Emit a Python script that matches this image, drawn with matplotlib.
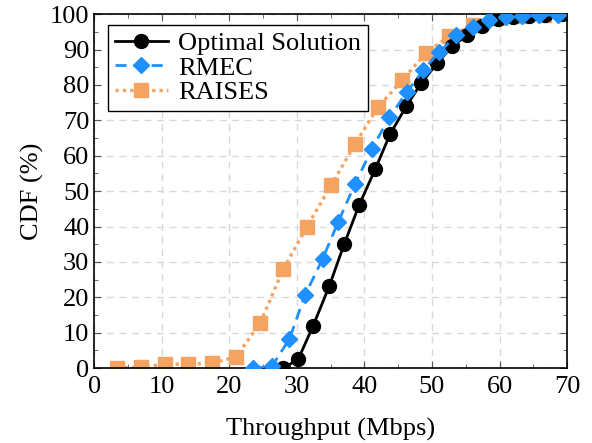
import matplotlib
matplotlib.use("Agg")
import matplotlib.pyplot as plt
from matplotlib.ticker import MultipleLocator

# throughput CDF data
opt_x = [28.0, 30.2, 32.4, 34.8, 37.0, 39.2, 41.6, 43.8, 46.2, 48.4, 50.8, 53.0,
         55.2, 57.4, 59.8, 62.0, 64.4, 66.7, 69.2]
opt_y = [0.0, 2.5, 11.9, 23.2, 35.0, 46.0, 56.2, 66.1, 74.0, 80.5, 86.2, 91.0,
         94.0, 96.6, 98.6, 99.2, 99.6, 99.8, 100.0]

rmec_x = [23.5, 26.3, 28.9, 31.2, 33.8, 36.1, 38.6, 41.1, 43.7, 46.3, 48.7, 51.1,
          53.6, 56.0, 58.5, 60.9, 63.3, 65.9, 68.7]
rmec_y = [0.0, 0.5, 8.2, 20.6, 30.8, 41.2, 52.0, 61.9, 70.9, 78.0, 84.2, 89.3,
          94.0, 96.3, 98.3, 99.2, 99.4, 99.7, 99.8]

raises_x = [3.4, 7.0, 10.5, 13.9, 17.5, 21.0, 24.6, 28.0, 31.5, 35.1, 38.6, 42.0,
            45.6, 49.1, 52.5, 56.0, 59.6, 63.0, 66.6]
raises_y = [0.0, 0.3, 1.1, 1.1, 1.4, 3.2, 12.8, 28.0, 40.0, 51.7, 63.3, 73.7,
            81.4, 89.0, 93.8, 96.9, 98.9, 99.4, 99.7]

plt.rcParams['font.family'] = ['Liberation Serif', 'DejaVu Serif']

fig = plt.figure(figsize=(5.92, 4.43), dpi=100)
ax = fig.add_axes([0.159, 0.169, 0.799, 0.799])

ax.plot(opt_x, opt_y, color='black', linestyle='-', linewidth=2.0,
        marker='o', markersize=10, label='Optimal Solution', zorder=3)
ax.plot(rmec_x, rmec_y, color='#1E90FF', linestyle=(0, (4, 2.5)), linewidth=2.0,
        marker='D', markersize=8, label='RMEC', zorder=3)
ax.plot(raises_x, raises_y, color='#F4A460', linestyle=(0, (1, 1.2)), linewidth=2.4,
        marker='s', markersize=10, label='RAISES', zorder=2)

ax.set_xlim(0, 70)
ax.set_ylim(0, 100)
ax.xaxis.set_major_locator(MultipleLocator(10))
ax.xaxis.set_minor_locator(MultipleLocator(5))
ax.yaxis.set_major_locator(MultipleLocator(10))
ax.yaxis.set_minor_locator(MultipleLocator(5))
ax.tick_params(which='both', direction='in', top=True, right=True, labelsize=19,
               color='#555555')
ax.tick_params(which='major', length=5)
ax.tick_params(which='minor', length=3)
ax.tick_params(axis='x', which='major', pad=6)
ax.grid(True, which='major', color='#d9d9d9', linestyle=(0, (5, 4)), linewidth=1)
ax.set_axisbelow(True)
for sp in ax.spines.values():
    sp.set_linewidth(1.2)
    sp.set_color('black')

ax.set_xlabel('Throughput (Mbps)', fontsize=19, labelpad=14)
ax.set_ylabel('CDF (%)', fontsize=19)

leg = ax.legend(loc='upper left', fontsize=19, frameon=True, fancybox=False,
                edgecolor='black', framealpha=1, handlelength=2.0,
                borderpad=0.25, labelspacing=0.05, handletextpad=0.4,
                borderaxespad=0.0, bbox_to_anchor=(0.03, 0.97))
leg.get_frame().set_linewidth(1.0)

fig.savefig('out.png', dpi=100)
